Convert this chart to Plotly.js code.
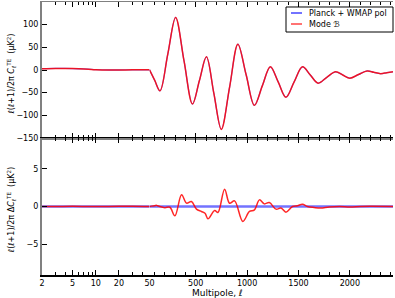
<!DOCTYPE html>
<html><head><meta charset="utf-8">
<script src="https://cdn.plot.ly/plotly-3.0.1.min.js"></script>
<style>html,body{margin:0;padding:0;background:#fff}</style>
</head><body><div id="chart" style="width:395px;height:298px"></div>
<script>
// --- data ---
const ellLow = [2, 3, 4, 5, 6, 8, 10, 15, 20, 30, 40, 50];
const teLow  = [3, 3.5, 3.5, 3.2, 2.8, 1.8, 0.8, 0, 0, 0.3, 0.5, 0.5];
const ellHigh = [50, 101, 152, 228, 304, 386, 468, 536, 604, 676, 749, 830, 910, 990, 1071, 1148, 1226, 1302, 1378, 1458, 1539, 1615, 1691, 1776, 1862, 1931, 2000, 2084, 2168, 2233, 2298, 2360, 2420];
const teHigh  = [0.5, -23, -46, 35, 116, 20, -75, -23, 29, -51, -131, -37, 57, -10, -78, -35, 7, -26, -60, -26, 7, -11, -29, -16, -4, -11, -18, -10, -2, -5, -8, -6, -4];
const ellResLow = [2, 3, 5, 8, 10, 20, 30, 50];
const resLow    = [0, 0, 0.03, 0, 0, 0.02, 0.03, 0];
const ellResHigh = [50, 70, 100, 120, 150, 200, 248, 297, 362, 410, 458, 507, 555, 590, 619, 684, 716, 781, 829, 878, 958, 1023, 1071, 1120, 1168, 1216, 1281, 1330, 1378, 1442, 1490, 1539, 1587, 1652, 1717, 1800, 1900, 2000, 2100, 2200, 2420];
const resHigh    = [0, 0.05, 0.1, 0.15, 0, -0.15, -0.1, -1.24, 1.55, 0.45, 0.66, -0.35, -0.66, -0.9, -1.63, -0.53, -0.8, 2.3, 0.44, 0.75, -1.98, -0.66, -0.44, 0.88, 0.35, 0.53, -0.35, -0.2, -0.75, 0, 0.1, 0.3, 0, -0.13, -0.2, -0.05, 0, -0.05, 0, 0.02, 0];
const ellZeroLow = [2, 50];
const zeroLow = [0, 0];
const ellZeroHigh = [50, 2420];
const zeroHigh = [0, 0];
const logTickVals = [2, 5, 10, 20, 50];
const logTickText = ['2', '5', '10', '20', '50'];
const logMinorVals = [3, 4, 6, 7, 8, 9, 30, 40];
const linTickVals = [500, 1000, 1500, 2000];
const linTickText = ['500', '1000', '1500', '2000'];
const seriesNames = ['Planck + WMAP pol', 'Mode ℬ'];

const BLUE = 'rgba(0,0,255,0.55)';
const RED = 'rgba(255,0,0,0.85)';
const FONT = 'DejaVu Sans, sans-serif';

const traces = [
  {x: ellLow, y: teLow, xaxis: 'x', yaxis: 'y', name: seriesNames[0], mode: 'lines', line: {color: BLUE, width: 1.3, shape: 'spline'}},
  {x: ellHigh, y: teHigh, xaxis: 'x2', yaxis: 'y', name: seriesNames[0], mode: 'lines', line: {color: BLUE, width: 1.3, shape: 'spline'}},
  {x: ellLow, y: teLow, xaxis: 'x', yaxis: 'y', name: seriesNames[1], mode: 'lines', line: {color: RED, width: 1.5, shape: 'spline'}},
  {x: ellHigh, y: teHigh, xaxis: 'x2', yaxis: 'y', name: seriesNames[1], mode: 'lines', line: {color: RED, width: 1.5, shape: 'spline'}},
  {x: ellZeroLow, y: zeroLow, xaxis: 'x3', yaxis: 'y2', name: seriesNames[0], mode: 'lines', line: {color: BLUE, width: 2.5}},
  {x: ellZeroHigh, y: zeroHigh, xaxis: 'x4', yaxis: 'y2', name: seriesNames[0], mode: 'lines', line: {color: BLUE, width: 2.5}},
  {x: ellResLow, y: resLow, xaxis: 'x3', yaxis: 'y2', name: seriesNames[1], mode: 'lines', line: {color: RED, width: 1.5, shape: 'spline'}},
  {x: ellResHigh, y: resHigh, xaxis: 'x4', yaxis: 'y2', name: seriesNames[1], mode: 'lines', line: {color: RED, width: 1.5, shape: 'spline'}}
];

const splitFrac = 0.3063;
const panelSplit = 0.5018;
const tf = {family: FONT, size: 8, color: '#000'};

function logAxis(anchor, labels, lineColor) {
  return {
    type: 'log', domain: [0, splitFrac], anchor: anchor,
    range: [Math.log10(2), Math.log10(50)],
    tickmode: 'array', tickvals: logTickVals, ticktext: logTickText,
    showticklabels: labels, tickfont: tf,
    ticks: 'inside', ticklen: 5, tickwidth: 1, tickcolor: '#000',
    minor: {tickmode: 'array', tickvals: logMinorVals, ticks: 'inside', ticklen: 3, tickcolor: '#000'},
    showline: true, linecolor: lineColor, linewidth: 1.5, mirror: 'ticks',
    showgrid: false, zeroline: false, fixedrange: true
  };
}
function linAxis(anchor, labels, lineColor) {
  return {
    type: 'linear', domain: [splitFrac, 1], anchor: anchor,
    range: [50, 2420],
    tickmode: 'array', tickvals: linTickVals, ticktext: linTickText,
    showticklabels: labels, tickfont: tf,
    ticks: 'inside', ticklen: 5, tickwidth: 1, tickcolor: '#000',
    minor: {tickmode: 'linear', tick0: 0, dtick: 100, ticks: 'inside', ticklen: 3, tickcolor: '#000'},
    showline: true, linecolor: lineColor, linewidth: 1.5, mirror: 'ticks',
    showgrid: false, zeroline: false, fixedrange: true
  };
}
function yAxis(domain, range, dtick, anchor, side, labels, overlay) {
  const a = {
    domain: domain, range: range, anchor: anchor, side: side,
    tickmode: 'linear', tick0: 0, dtick: dtick,
    showticklabels: labels, tickfont: tf,
    ticks: 'inside', ticklen: 5, tickwidth: 1, tickcolor: '#000',
    showline: true, linecolor: side === 'left' ? '#808080' : '#000', linewidth: side === 'left' ? 2 : 1,
    showgrid: false, zeroline: false, fixedrange: true
  };
  if (overlay) a.overlaying = overlay;
  return a;
}

// legend drawn as a framed box (paper coordinates of the plot area)
const legBox = {x0: 0.6952, x1: 1.0, y0: 0.8901, y1: 0.9817};
const legRows = [0.9597, 0.9194];
const legLineX = [0.7094, 0.7407];
const legTextX = 0.755;
const legColors = ['rgba(0,0,255,0.55)', 'rgba(255,0,0,0.55)'];

const shapes = [
  {type: 'rect', xref: 'paper', yref: 'paper', x0: legBox.x0, x1: legBox.x1, y0: legBox.y0, y1: legBox.y1,
   line: {color: '#000', width: 1}, fillcolor: '#fff', layer: 'above'}
];
const annotations = [
  {text: 'Multipole, <i>ℓ</i>', xref: 'paper', yref: 'paper', x: 0.5, y: -0.066, xanchor: 'center', yanchor: 'middle', showarrow: false, font: {family: FONT, size: 9, color: '#000'}},
  {text: 'ℓ(ℓ+1)/2π <i>C</i><sub>ℓ</sub><sup>TE</sup>  (μK<sup>2</sup>)', xref: 'paper', yref: 'paper', x: -0.088, y: 0.735, xanchor: 'center', yanchor: 'middle', textangle: -90, showarrow: false, font: {family: FONT, size: 8, color: '#000'}},
  {text: 'ℓ(ℓ+1)/2π Δ<i>C</i><sub>ℓ</sub><sup>TE</sup>  (μK<sup>2</sup>)', xref: 'paper', yref: 'paper', x: -0.088, y: 0.238, xanchor: 'center', yanchor: 'middle', textangle: -90, showarrow: false, font: {family: FONT, size: 8, color: '#000'}}
];
seriesNames.forEach((nm, i) => {
  shapes.push({type: 'line', xref: 'paper', yref: 'paper', x0: legLineX[0], x1: legLineX[1], y0: legRows[i], y1: legRows[i],
               line: {color: legColors[i], width: 2}, layer: 'above'});
  annotations.push({text: nm, xref: 'paper', yref: 'paper', x: legTextX, y: legRows[i], xanchor: 'left', yanchor: 'middle',
                    showarrow: false, font: {family: FONT, size: 8, color: '#000'}});
});

const layout = {
  width: 395, height: 298,
  margin: {l: 42, r: 2, t: 2, b: 23},
  paper_bgcolor: '#fff', plot_bgcolor: '#fff',
  font: {family: FONT, size: 8, color: '#000'},
  showlegend: false,
  xaxis: logAxis('y', false, '#808080'),
  xaxis2: linAxis('y', false, '#808080'),
  xaxis3: logAxis('y2', true, '#000'),
  xaxis4: linAxis('y2', true, '#000'),
  yaxis: yAxis([panelSplit, 1], [-150, 150], 50, 'x', 'left', true),
  yaxis2: yAxis([0, panelSplit], [-9.1, 9.1], 5, 'x3', 'left', true),
  yaxis3: yAxis([panelSplit, 1], [-150, 150], 50, 'x2', 'right', false, 'y'),
  yaxis4: yAxis([0, panelSplit], [-9.1, 9.1], 5, 'x4', 'right', false, 'y2'),
  shapes: shapes,
  annotations: annotations
};

Plotly.newPlot('chart', traces, layout, {staticPlot: true, displayModeBar: false});
</script>
</body></html>
